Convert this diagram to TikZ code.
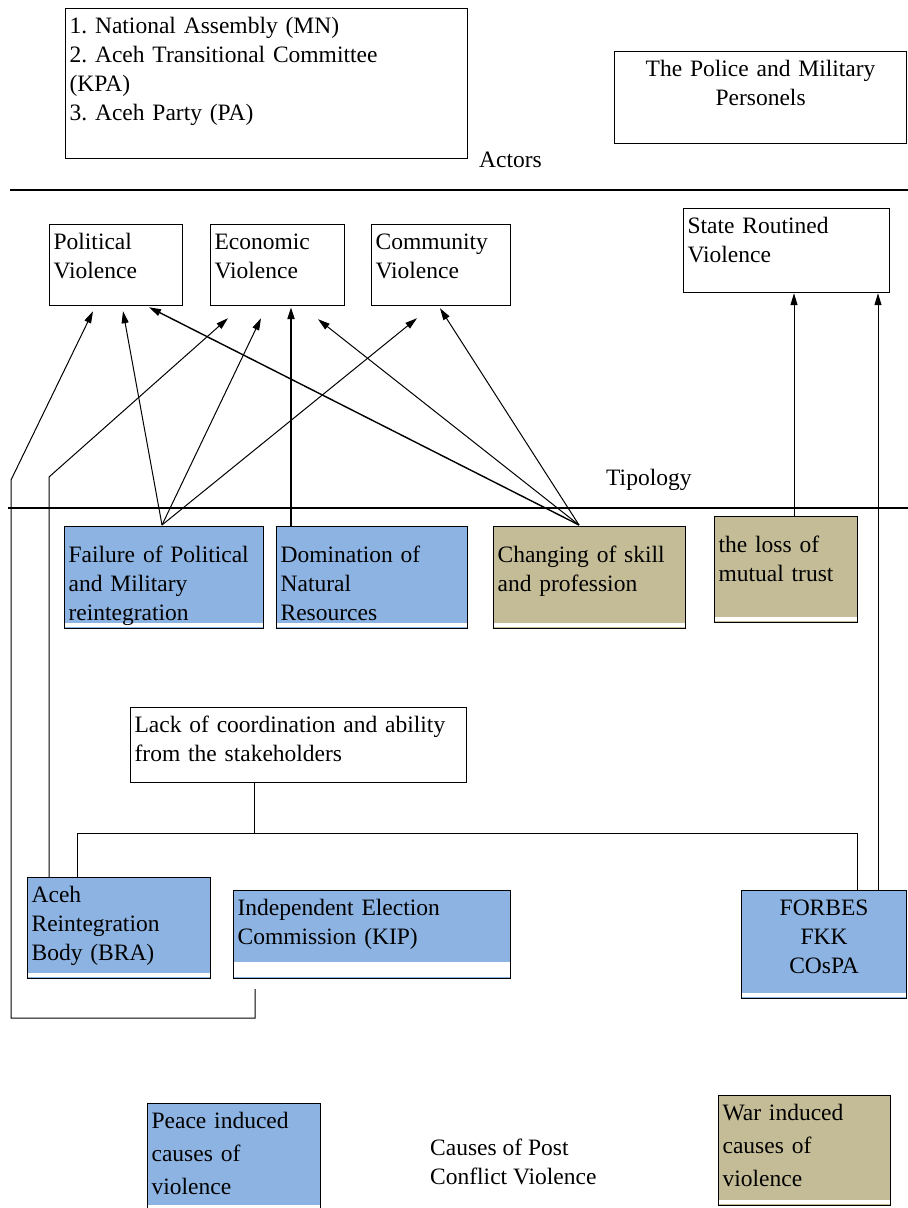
\documentclass[tikz,border=0pt]{standalone}
\usepackage{fontspec}
\setmainfont{Liberation Serif}
\usepackage{tikz}
\usetikzlibrary{arrows.meta,positioning,calc}
\definecolor{peaceblue}{HTML}{8DB3E2}
\definecolor{wartan}{HTML}{C4BC96}
\frenchspacing

\begin{document}
\begin{tikzpicture}[x=1pt,y=-1pt,
  every node/.style={font=\fontsize{23.5}{29}\selectfont,inner xsep=4pt,inner ysep=5pt},
  box/.style={draw,line width=1.2pt,anchor=north west,align=left},
  cell/.style 2 args={text width={#1pt-8pt},text height=20pt,text depth={#2pt-30pt}},
  tcell/.style 2 args={text width={#1pt-8pt},text height=31pt,text depth={#2pt-41pt}},
  strip/.style={path picture={\fill[white] ([yshift=2pt]path picture bounding box.south west)
    rectangle ([yshift=#1]path picture bounding box.south east);}},
  strip/.default=6pt,
  peace/.style={box,fill=peaceblue,strip},
  war/.style={box,fill=wartan,strip},
  lbl/.style={anchor=west,align=left},
  arr/.style={line width=1pt,-{Triangle[length=12pt,width=7pt]}},
  link/.style={line width=1pt}]
\useasboundingbox (0,0) rectangle (908,1208);

% actors
\node[box,cell={402}{150}] (assembly) at (65,8)
  {1. National Assembly (MN)\\2. Aceh Transitional Committee\\(KPA)\\3. Aceh Party (PA)};
\node[box,cell={292}{92},align=center] (police) at (614,51) {The Police and Military\\Personels};
\node[lbl] (actors) at (475,160) {Actors};
\draw[line width=1.2pt] (10,190) -- (908,190);

% tipology
\node[box,cell={133}{81}] (pol) at (49,224) {Political\\Violence};
\node[box,cell={134}{81}] (eco) at (210,224) {Economic\\Violence};
\node[box,cell={139}{81}] (com) at (371,224) {Community\\Violence};
\node[box,cell={206}{84}] (state) at (683,208) {State Routined\\Violence};
\node[lbl] (tipology) at (602,480) {Tipology};
\draw[line width=1.2pt] (8,508) -- (908,508);

% causes
\node[peace,tcell={199}{102}] (failure) at (64,526) {Failure of Political\\and Military\\reintegration};
\node[peace,tcell={191}{102}] (domination) at (276,526) {Domination of\\Natural\\Resources};
\node[war,tcell={192}{102}] (changing) at (493,526) {Changing of skill\\and profession};
\node[war,tcell={143}{106}] (loss) at (714,516) {the loss of\\mutual trust};

% stakeholders
\node[box,cell={336}{75}] (lack) at (130,707) {Lack of coordination and ability\\from the stakeholders};
\node[peace,cell={183}{101}] (bra) at (27,877) {Aceh\\Reintegration\\Body (BRA)};
\node[peace,cell={277}{88},strip=17pt] (kip) at (233,890) {Independent Election\\Commission (KIP)};
\node[peace,cell={165}{108},align=center] (forbes) at (741,890) {FORBES\\FKK\\COsPA};

% legend
\node[peace,cell={173}{107},font=\fontsize{23.5}{33}\selectfont] (peacekey) at (147,1103)
  {Peace induced\\causes of\\violence};
\node[lbl] (causes) at (426,1162) {Causes of Post\\Conflict Violence};
\node[war,cell={172}{110},font=\fontsize{23.5}{33}\selectfont] (warkey) at (718,1095)
  {War induced\\causes of\\violence};

% arrows to the typology
\coordinate (ftop) at ($(failure.north west)+(98,-1)$);
\coordinate (ctop) at ($(changing.north west)+(86,-1)$);
\draw[arr] (ftop) -- ($(pol.south west)+(74,5)$);
\draw[arr] (ftop) -- ($(eco.south west)+(51,12)$);
\draw[arr] (ftop) -- ($(com.south west)+(46,12)$);
\draw[arr,line width=1.4pt] (ctop) -- ($(pol.south west)+(100,1)$);
\draw[arr] (ctop) -- ($(eco.south west)+(108,13)$);
\draw[arr] (ctop) -- ($(com.south west)+(69,2)$);
\draw[arr,line width=2pt] ($(domination.north west)+(15,0)$) -- ($(eco.south west)+(81,1)$);
\draw[arr] ($(loss.north west)+(80,0)$) -- ($(state.south west)+(111,0)$);
\draw[arr] ($(forbes.north west)+(137,0)$) -- ($(state.south west)+(195,0)$);

% outer links
\coordinate (bl) at (11,1018);
\coordinate (lk) at (11,480);
\coordinate (lb) at (49,477);
\draw[arr] ($(kip.south west)+(22,10)$) |- (bl) -- (lk) -- ($(pol.south west)+(44,5)$);
\draw[arr] ($(bra.north west)+(22,0)$) -- (lb) -- ($(eco.south west)+(18,12)$);

% coordination tree
\draw[link] ($(lack.south west)+(124,0)$) -- ++(0,50) coordinate (hub);
\draw[link] ($(bra.north west)+(50,0)$) |- (hub) -| ($(forbes.north west)+(116,0)$);
\end{tikzpicture}
\end{document}
